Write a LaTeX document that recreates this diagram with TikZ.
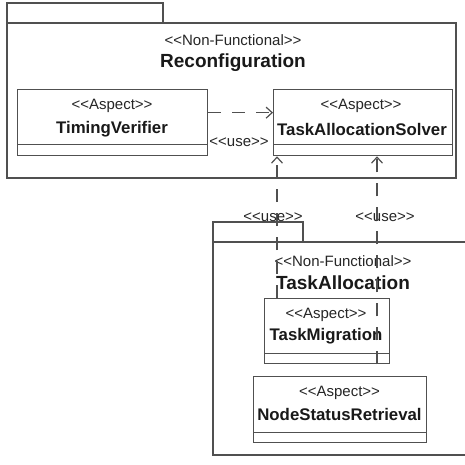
\documentclass[tikz,border=0pt]{standalone}
\usepackage{fontspec}
\setmainfont{Liberation Sans}
\usetikzlibrary{arrows.meta}
\definecolor{ln}{HTML}{505050}
\begin{document}
\begin{tikzpicture}[x=1pt,y=-1pt,
  pkg/.style={draw=ln, line width=1.4pt},
  cls/.style={draw=ln, line width=1.3pt, fill=white, inner sep=0pt, anchor=north west},
  st/.style={font=\fontsize{15}{17}\selectfont, text=black!85, inner sep=0pt},
  nm/.style={font=\fontsize{16.8}{18}\selectfont\bfseries, text=black!90, inner sep=0pt},
  pn/.style={font=\fontsize{19}{21}\selectfont\bfseries, text=black!90, inner sep=0pt},
  dep/.style={draw=ln, line width=1.2pt, dash pattern=on 13pt off 11pt, -{Straight Barb[length=6pt,width=11pt]}}
]
\useasboundingbox[fill=white] (0,0) rectangle (465,465);
% top package
\draw[pkg] (7,23) rectangle (456,178);
\draw[pkg] (7,23) |- (163,3) -- (163,23);
\node[st] (nf1) at (233,40) {<{}<Non-Functional>{}>};
\node[pn] (reconf) at (233,63) {Reconfiguration};
% classes in top package
\node[cls, minimum width=190pt, minimum height=66pt] (tv) at (17,89) {};
\draw[draw=ln, line width=1.2pt] ([yshift=12pt]tv.south west) -- ([yshift=12pt]tv.south east);
\node[st] (tvs) at (112,106) {<{}<Aspect>{}>};
\node[nm] (tvn) at (112,129) {TimingVerifier};
\node[cls, minimum width=179pt, minimum height=66pt] (tas) at (273,89) {};
\draw[draw=ln, line width=1.2pt] ([yshift=12pt]tas.south west) -- ([yshift=12pt]tas.south east);
\node[st] (tass) at (361,106) {<{}<Aspect>{}>};
\node[nm] (tasn) at (362,129) {TaskAllocationSolver};
% dependency TV -> TAS
\draw[dep] ([yshift=10pt]tv.east) -- ([yshift=10pt]tas.west);
\node[st] (use1) at (239,142) {<{}<use>{}>};
% bottom package
\draw[pkg] (466,242) -- (213,242) -- (213,455) -- (466,455);
\draw[pkg] (213,242) |- (303,222) -- (303,242);
\node[st] (nf2) at (343,261) {<{}<Non-Functional>{}>};
\node[pn] (ta) at (343,283) {TaskAllocation};
% classes in bottom package
\node[cls, minimum width=125pt, minimum height=65pt] (tm) at (264,298) {};
\draw[draw=ln, line width=1.2pt] ([yshift=11pt]tm.south west) -- ([yshift=11pt]tm.south east);
\node[st] (tms) at (326,315) {<{}<Aspect>{}>};
\node[nm] (tmn) at (326,336) {TaskMigration};
\node[cls, minimum width=173pt, minimum height=66pt] (nsr) at (253,376) {};
\draw[draw=ln, line width=1.2pt] ([yshift=11pt]nsr.south west) -- ([yshift=11pt]nsr.south east);
\node[st] (nsrs) at (339.5,393) {<{}<Aspect>{}>};
\node[nm] (nsrn) at (339.5,414) {NodeStatusRetrieval};
% dependencies TM -> TAS
\draw[dep] ([xshift=13pt]tm.north west) -- ([xshift=4pt]tas.south west);
\draw[dep] ([xshift=113pt]tm.south west) -- ([xshift=104pt]tas.south west);
\node[st] (use2) at (273,217) {<{}<use>{}>};
\node[st] (use3) at (385,217) {<{}<use>{}>};
\end{tikzpicture}
\end{document}
